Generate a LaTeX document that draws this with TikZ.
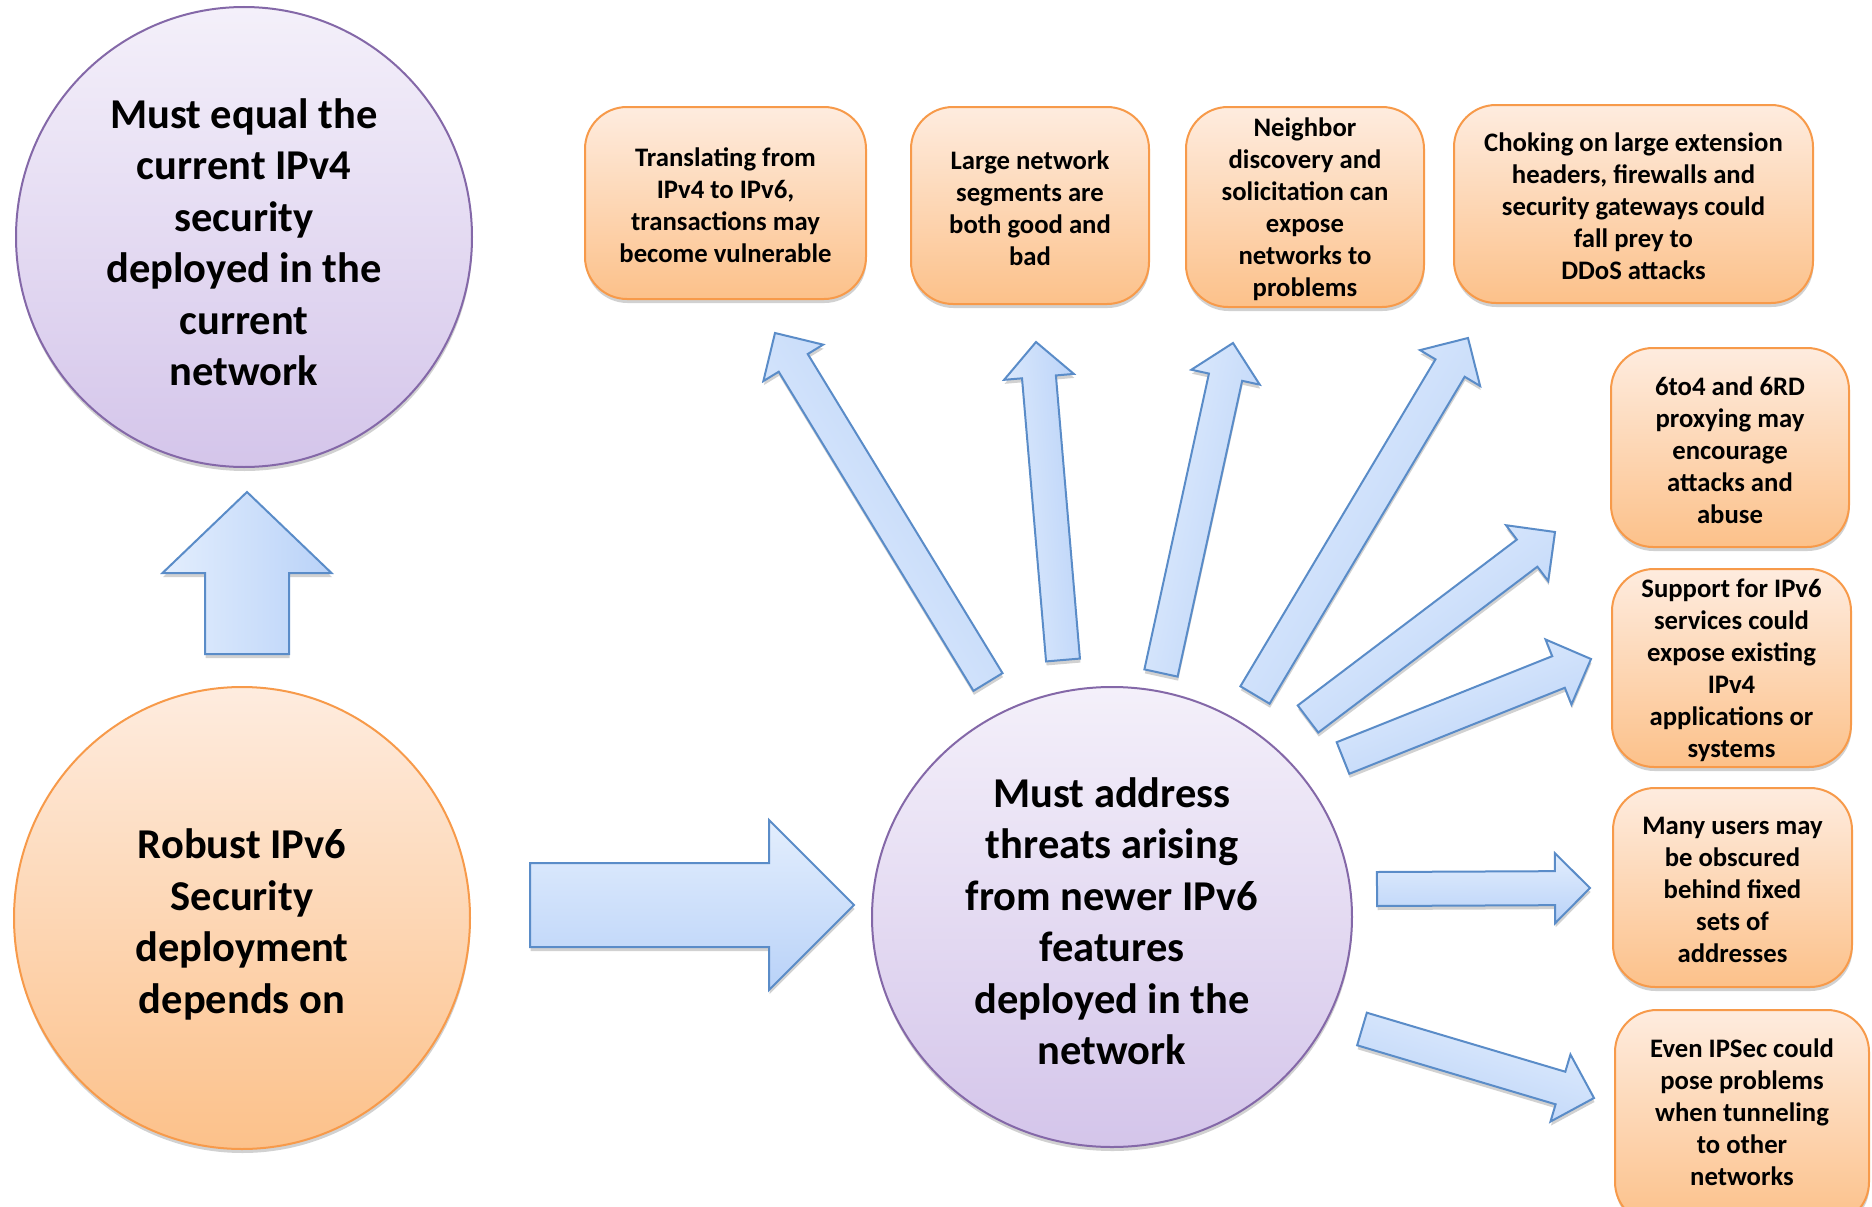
\documentclass[tikz,border=0pt]{standalone}
\usepackage{fontspec}
\setmainfont{Carlito}
\usetikzlibrary{calc,shadows,shapes.geometric}

\definecolor{arrowlight}{HTML}{E3EEFD}
\definecolor{arrowdark}{HTML}{B9D2F8}
\definecolor{arrowline}{HTML}{5A8CC8}
\definecolor{purplelight}{HTML}{F4F0FA}
\definecolor{purpledark}{HTML}{D4C5EA}
\definecolor{purpleline}{HTML}{8468A8}
\definecolor{orangelight}{HTML}{FEECDF}
\definecolor{orangedark}{HTML}{FCC18A}
\definecolor{orangeline}{HTML}{F79A4A}

\tikzset{
  softshadow/.style={drop shadow={shadow xshift=0.5pt, shadow yshift=-4pt, fill=black, opacity=0.18}},
  bigtext/.style={font=\fontsize{42.5pt}{51.5pt}\selectfont\bfseries, align=center, text=black, inner sep=0pt},
  smalltext/.style={font=\fontsize{26.7pt}{32pt}\selectfont\bfseries, align=center, text=black, inner sep=0pt},
  purpledisc/.style={ellipse, inner sep=0pt, draw=purpleline, line width=2pt,
    top color=purplelight, bottom color=purpledark, softshadow},
  orangedisc/.style={ellipse, inner sep=0pt, draw=orangeline, line width=2pt,
    top color=orangelight, bottom color=orangedark, softshadow},
  infobox/.style={rectangle, rounded corners=42pt, inner sep=0pt, draw=orangeline, line width=2pt,
    top color=orangelight, bottom color=orangedark, softshadow},
  blockarrow/.style={draw=arrowline, line width=2pt, line join=miter,
    top color=arrowlight, bottom color=arrowdark, softshadow},
}

% Block arrow from tail #1 to tip #2: half shaft width #3, half head width #4, head length #5
\newcommand\blockarrow[5]{%
  \pgfmathanglebetweenpoints{\pgfpointanchor{#1}{center}}{\pgfpointanchor{#2}{center}}%
  \let\arrowangle\pgfmathresult
  \coordinate (#1-hb) at ($(#2)!#5!(#1)$);
  \draw[blockarrow, shading angle=\arrowangle]
    ($(#1)!#3!-90:(#2)$) -- ($(#1)!#3!90:(#2)$) -- ($(#1-hb)!#3!90:(#2)$)
    -- ($(#1-hb)!#4!90:(#2)$) -- (#2) -- ($(#1-hb)!#4!-90:(#2)$)
    -- ($(#1-hb)!#3!-90:(#2)$) -- cycle;
}

\begin{document}
\begin{tikzpicture}[x=1pt, y=-1pt]
\useasboundingbox[fill=white] (0,0) rectangle (1872,1207);

% main discs
\node[purpledisc, minimum width=456pt, minimum height=460pt] (goal) at (244,237) {};
\node[bigtext] (goal-text) at (244,242)
  {Must equal the\\current IPv4\\security\\deployed in the\\current\\network};
\node[orangedisc, minimum width=456pt, minimum height=462pt] (basis) at (242,918) {};
\node[bigtext] (basis-text) at (242,924.5)
  {Robust IPv6\\Security\\deployment\\depends on};
\node[purpledisc, minimum width=480pt, minimum height=460pt] (threats) at (1112,917) {};
\node[bigtext] (threats-text) at (1112,921)
  {Must address\\threats arising\\from newer IPv6\\features\\deployed in the\\network};

% threat boxes
\node[infobox, minimum width=281pt, minimum height=192pt] (b1) at (725.5,203) {};
\node[smalltext] (b1-text) at (725.5,205.5) {Translating from\\IPv4 to IPv6,\\transactions may\\become vulnerable};
\node[infobox, minimum width=238pt, minimum height=197pt] (b2) at (1030,205.5) {};
\node[smalltext] (b2-text) at (1030,208) {Large network\\segments are\\both good and\\bad};
\node[infobox, minimum width=238pt, minimum height=200pt] (b3) at (1305,207) {};
\node[smalltext] (b3-text) at (1305,209.5) {Neighbor\\discovery and\\solicitation can\\expose\\networks to\\problems};
\node[infobox, minimum width=359pt, minimum height=198pt] (b4) at (1633.5,204) {};
\node[smalltext] (b4-text) at (1633.5,206.5) {Choking on large extension\\headers, firewalls and\\security gateways could\\fall prey to\\DDoS attacks};
\node[infobox, minimum width=238pt, minimum height=199pt] (b5) at (1730,447.5) {};
\node[smalltext] (b5-text) at (1730,450) {6to4 and 6RD\\proxying may\\encourage\\attacks and\\abuse};
\node[infobox, minimum width=239pt, minimum height=198pt] (b6) at (1731.5,668) {};
\node[smalltext] (b6-text) at (1731.5,670.5) {Support for IPv6\\services could\\expose existing\\IPv4\\applications or\\systems};
\node[infobox, minimum width=239pt, minimum height=199pt] (b7) at (1732.5,887.5) {};
\node[smalltext] (b7-text) at (1732.5,890) {Many users may\\be obscured\\behind fixed\\sets of\\addresses};
\node[infobox, minimum width=254pt, minimum height=214pt] (b8) at (1742,1117) {};
\node[smalltext] (b8-text) at (1742,1112) {Even IPSec could\\pose problems\\when tunneling\\to other\\networks};

% arrow ends
\coordinate (upT) at (247,654);   \coordinate (upH) at (247,492);
\coordinate (inT) at (530,905);   \coordinate (inH) at (854,905);
\coordinate (a1T) at (988,682);   \coordinate (a1H) at (775,333);
\coordinate (a2T) at (1063,660);  \coordinate (a2H) at (1036,342);
\coordinate (a3T) at (1161,673);  \coordinate (a3H) at (1233,343);
\coordinate (a4T) at (1255,695);  \coordinate (a4H) at (1468,338);
\coordinate (a5T) at (1308,719);  \coordinate (a5H) at (1555,532);
\coordinate (a6T) at (1343,758);  \coordinate (a6H) at (1591,659);
\coordinate (a7T) at (1377,889);  \coordinate (a7H) at (1590,888);
\coordinate (a8T) at (1362,1029); \coordinate (a8H) at (1594,1098);

% broad arrows
\blockarrow{upT}{upH}{42pt}{84.5pt}{81pt}
\blockarrow{inT}{inH}{42pt}{85pt}{85pt}

% narrow arrows fanning out of the threats disc
\blockarrow{a1T}{a1H}{17pt}{35pt}{35pt}
\blockarrow{a2T}{a2H}{17pt}{35pt}{35pt}
\blockarrow{a3T}{a3H}{17pt}{35pt}{35pt}
\blockarrow{a4T}{a4H}{17pt}{35pt}{35pt}
\blockarrow{a5T}{a5H}{17pt}{35pt}{35pt}
\blockarrow{a6T}{a6H}{17pt}{35pt}{35pt}
\blockarrow{a7T}{a7H}{17pt}{35pt}{35pt}
\blockarrow{a8T}{a8H}{17pt}{35pt}{35pt}
\end{tikzpicture}
\end{document}
